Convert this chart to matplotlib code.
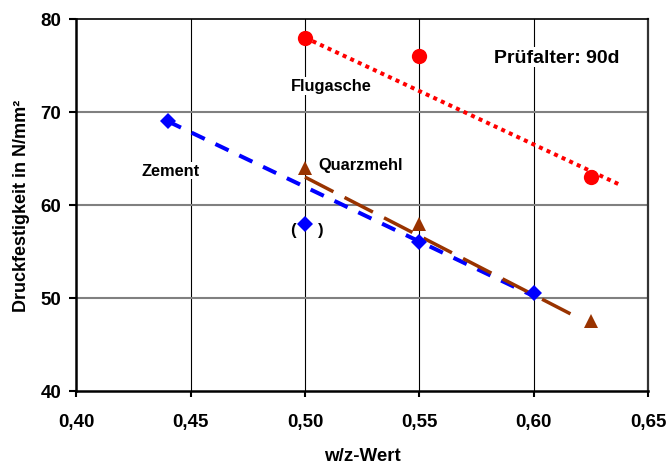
import matplotlib
matplotlib.use("Agg")
import matplotlib.pyplot as plt

# data
zement_x = [0.44, 0.50, 0.55, 0.60]
zement_y = [69.0, 58.0, 56.0, 50.5]
quarz_x = [0.50, 0.55, 0.625]
quarz_y = [64.0, 58.0, 47.5]
flug_x = [0.50, 0.55, 0.625]
flug_y = [78.0, 76.0, 63.0]

# trend lines (start / end as drawn in the picture)
zement_trend_x = [0.44, 0.60]
zement_trend_y = [69.0, 50.2]
quarz_trend_x = [0.50, 0.62]
quarz_trend_y = [63.0, 47.8]
flug_trend_x = [0.50, 0.6375]
flug_trend_y = [78.0, 62.2]

x_ticks = [0.40, 0.45, 0.50, 0.55, 0.60, 0.65]
x_tick_labels = ["0,40", "0,45", "0,50", "0,55", "0,60", "0,65"]
y_ticks = [40, 50, 60, 70, 80]

plt.rcParams['font.family'] = ['Liberation Sans', 'DejaVu Sans']
plt.rcParams['font.weight'] = 'bold'
plt.rcParams['lines.scale_dashes'] = False

fig = plt.figure(figsize=(6.7, 4.64), dpi=100)
ax = fig.add_axes([0.1139, 0.1552, 0.8533, 0.8017])

ax.set_xlim(0.40, 0.65)
ax.set_ylim(40, 80)

# grid: vertical black, horizontal gray
for x in x_ticks[1:-1]:
    ax.axvline(x, color='black', lw=0.8, zorder=1)
for y in y_ticks[1:-1]:
    ax.axhline(y, color='#808080', lw=1.5, zorder=1)

# trend lines
ax.plot(zement_trend_x, zement_trend_y, color='#0000FF', lw=2.9,
        dashes=(10.5, 8.5), dash_capstyle='butt', zorder=3)
ax.plot(quarz_trend_x, quarz_trend_y, color='#993300', lw=2.5,
        dashes=(23, 9), dash_capstyle='butt', zorder=3)
ax.plot(flug_trend_x, flug_trend_y, color='#FF0000', lw=2.9,
        dashes=(2.9, 3.1), dash_capstyle='butt', zorder=3)

# points
ax.plot(zement_x, zement_y, 'D', color='#0000FF', ms=8, mew=0, zorder=4)
ax.plot(quarz_x, quarz_y, '^', color='#993300', ms=10.5, mew=0, zorder=4)
ax.plot(flug_x, flug_y, 'o', color='#FF0000', ms=11, mew=0, zorder=4)

# labels inside the plot
box = dict(facecolor='white', edgecolor='none', pad=1)
ax.text(0.441, 63.7, "Zement", fontsize=11.8, ha='center', va='center', bbox=box, zorder=5)
ax.text(0.5244, 64.4, "Quarzmehl", fontsize=11.8, ha='center', va='center', zorder=5)
ax.text(0.5113, 72.8, "Flugasche", fontsize=11.8, ha='center', va='center', bbox=box, zorder=5)
ax.text(0.6099, 75.9, "Prüfalter: 90d", fontsize=14, ha='center', va='center', bbox=box, zorder=5)
ax.text(0.4949, 57.4, "(", fontsize=12, ha='center', va='center', zorder=5)
ax.text(0.5069, 57.4, ")", fontsize=12, ha='center', va='center', zorder=5)

ax.set_xticks(x_ticks)
ax.set_xticklabels(x_tick_labels)
ax.set_yticks(y_ticks)
ax.tick_params(axis='x', direction='out', length=4, width=1.5, pad=12, labelsize=13.5)
ax.tick_params(axis='y', direction='out', length=5, width=1.5, pad=6, labelsize=13.5)

for side in ['left', 'bottom']:
    ax.spines[side].set_linewidth(1.8)
    ax.spines[side].set_color('black')
ax.spines['top'].set_linewidth(1.2)
ax.spines['right'].set_linewidth(1.6)
ax.spines['right'].set_color('#333333')

ax.set_xlabel("w/z-Wert", fontsize=13.5, fontweight='bold', labelpad=12)
ax.set_ylabel("Druckfestigkeit in N/mm²", fontsize=13, fontweight='bold', labelpad=7)

fig.savefig("out.png", dpi=100)
